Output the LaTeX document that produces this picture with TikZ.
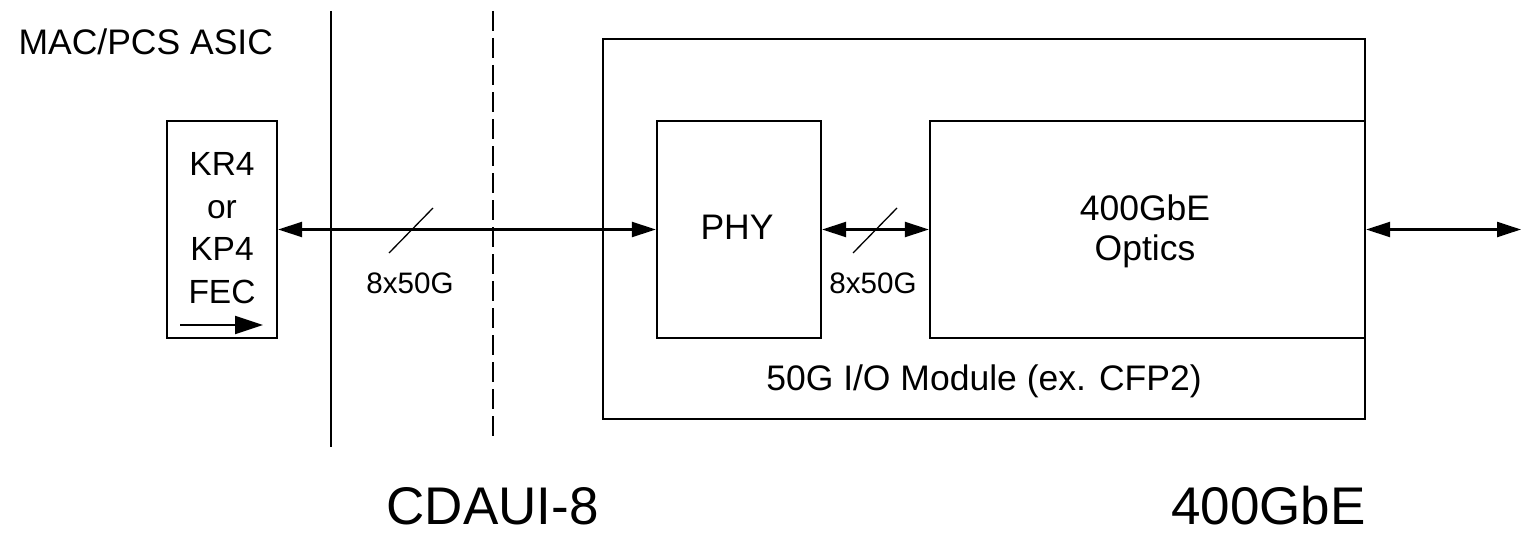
\documentclass[tikz,border=0pt]{standalone}
\usepackage{fontspec}
\setmainfont{Liberation Sans}
\usetikzlibrary{arrows.meta}
\tikzset{
    blk/.style={draw,line width=2.3pt,rectangle,inner sep=0pt},
    link/.style={line width=2.3pt,{Triangle[length=24pt,width=15pt]}-{Triangle[length=24pt,width=15pt]}},
    slash/.style={line width=1.3pt},
    txt/.style={font=\fontsize{35.5}{42}\selectfont},
    small/.style={font=\fontsize{29.6}{36}\selectfont},
    big/.style={font=\fontsize{53}{60}\selectfont,inner sep=0pt}
}
\begin{document}
\begin{tikzpicture}[x=1pt,y=-1pt]
    \useasboundingbox (0,0) rectangle (1521,535);
    \node[txt,anchor=base west] (asic) at (15,55) {MAC/PCS ASIC};
    \draw[line width=2.3pt] (331,11)--(331,447);
    \draw[line width=2.3pt,dash pattern=on 20pt off 7pt] (493,11)--(493,440);
    % boxes
    \node[blk,minimum width=762pt,minimum height=380pt] (mod) at (984,229) {};
    \node[blk,minimum width=435pt,minimum height=217pt] (opt) at (1147.5,229.5) {};
    \node[blk,minimum width=164pt,minimum height=217pt] (phy) at (739,229.5) {};
    \node[blk,minimum width=110pt,minimum height=217pt] (fec) at (222,229.5) {};
    \node[font=\fontsize{33.5}{42.5}\selectfont,align=center,anchor=base] (fectxt) at (222,303) {KR4\\or\\KP4\\FEC};
    \draw[line width=2.3pt,-{Triangle[length=28pt,width=18pt]}] (180,325)--(263,325);
    \node[txt] (phytxt) at (737,227.5) {PHY};
    \node[txt,align=center,anchor=base,font=\fontsize{35.5}{40}\selectfont] (opttxt) at (1145,260) {400GbE\\Optics};
    \node[txt,anchor=base] (modtxt) at (984,390) {50G I/O Module (ex. CFP2)};
    % links
    \coordinate (out) at (1521,229.5);
    \draw[link] (fec.east)--(phy.west);
    \draw[link] (phy.east)--(opt.west);
    \draw[link] (opt.east)--(out);
    \foreach \c in {411,875}
    {
        \draw[slash](\c-22,253)--(\c+22,208);
    }
    \node[small,anchor=base] (lane1) at (410,293) {8x50G};
    \node[small,anchor=base] (lane2) at (873,293) {8x50G};
    \node[big,anchor=base] (cdaui) at (492.5,524) {CDAUI-8};
    \node[big,anchor=base east] (gbe) at (1366,524) {400GbE};
\end{tikzpicture}
\end{document}
